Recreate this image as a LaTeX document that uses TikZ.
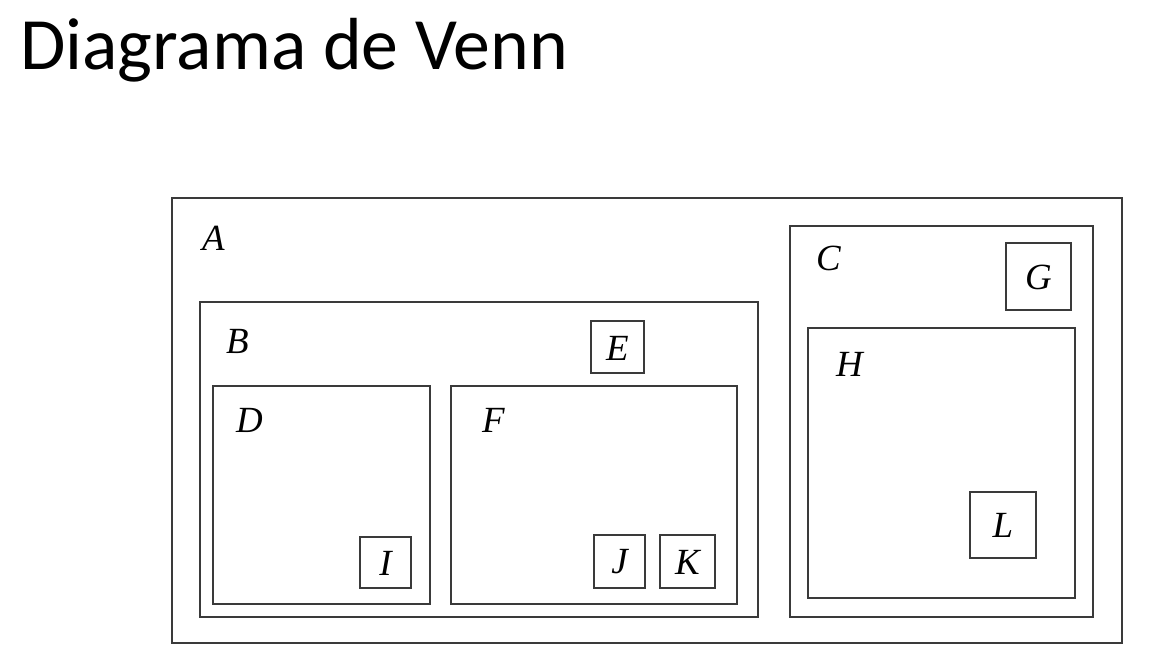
\documentclass[tikz,border=0pt]{standalone}
\usepackage{fontspec}
\setmainfont{Liberation Serif}
\newfontfamily\titlefont{Carlito}
\usetikzlibrary{positioning}
\definecolor{boxline}{HTML}{3A3A3A}

\begin{document}
\begin{tikzpicture}[x=0.02cm,y=-0.02cm,
    setbox/.style={boxline,line width=1.1pt},
    setlabel/.style={font=\fontsize{21}{24}\selectfont\itshape,anchor=base west},
    smalllabel/.style={font=\fontsize{21}{24}\selectfont\itshape}]
  \useasboundingbox (0,0) rectangle (1150,670);
  % Title
  \node[font=\titlefont\fontsize{42}{50}\selectfont,anchor=base west] (title) at (14,69) {Diagrama de Venn};

  % Outer set A
  \draw[setbox] (172,198) rectangle (1122,643);
  \node[setlabel] (labA) at (196,250) {A};

  % Set B with D, E, F
  \draw[setbox] (200,302) rectangle (758,617);
  \node[setlabel] (labB) at (220,353) {B};
  \draw[setbox] (591,321) rectangle (644,373);
  \node[smalllabel] (labE) at (617.5,348) {E};
  \draw[setbox] (213,386) rectangle (430,604);
  \node[setlabel] (labD) at (230,432) {D};
  \draw[setbox] (360,537) rectangle (411,588);
  \node[smalllabel] (labI) at (385.5,563) {I};
  \draw[setbox] (451,386) rectangle (737,604);
  \node[setlabel] (labF) at (476,432) {F};
  \draw[setbox] (594,535) rectangle (645,588);
  \node[smalllabel] (labJ) at (619.5,562) {J};
  \draw[setbox] (660,535) rectangle (715,588);
  \node[smalllabel] (labK) at (687.5,562) {K};

  % Set C with G, H
  \draw[setbox] (790,226) rectangle (1093,617);
  \node[setlabel] (labC) at (810,270) {C};
  \draw[setbox] (1006,243) rectangle (1071,310);
  \node[smalllabel] (labG) at (1038.5,277) {G};
  \draw[setbox] (808,328) rectangle (1075,598);
  \node[setlabel] (labH) at (830,376) {H};
  \draw[setbox] (970,492) rectangle (1036,558);
  \node[smalllabel] (labL) at (1003,525) {L};
\end{tikzpicture}
\end{document}
